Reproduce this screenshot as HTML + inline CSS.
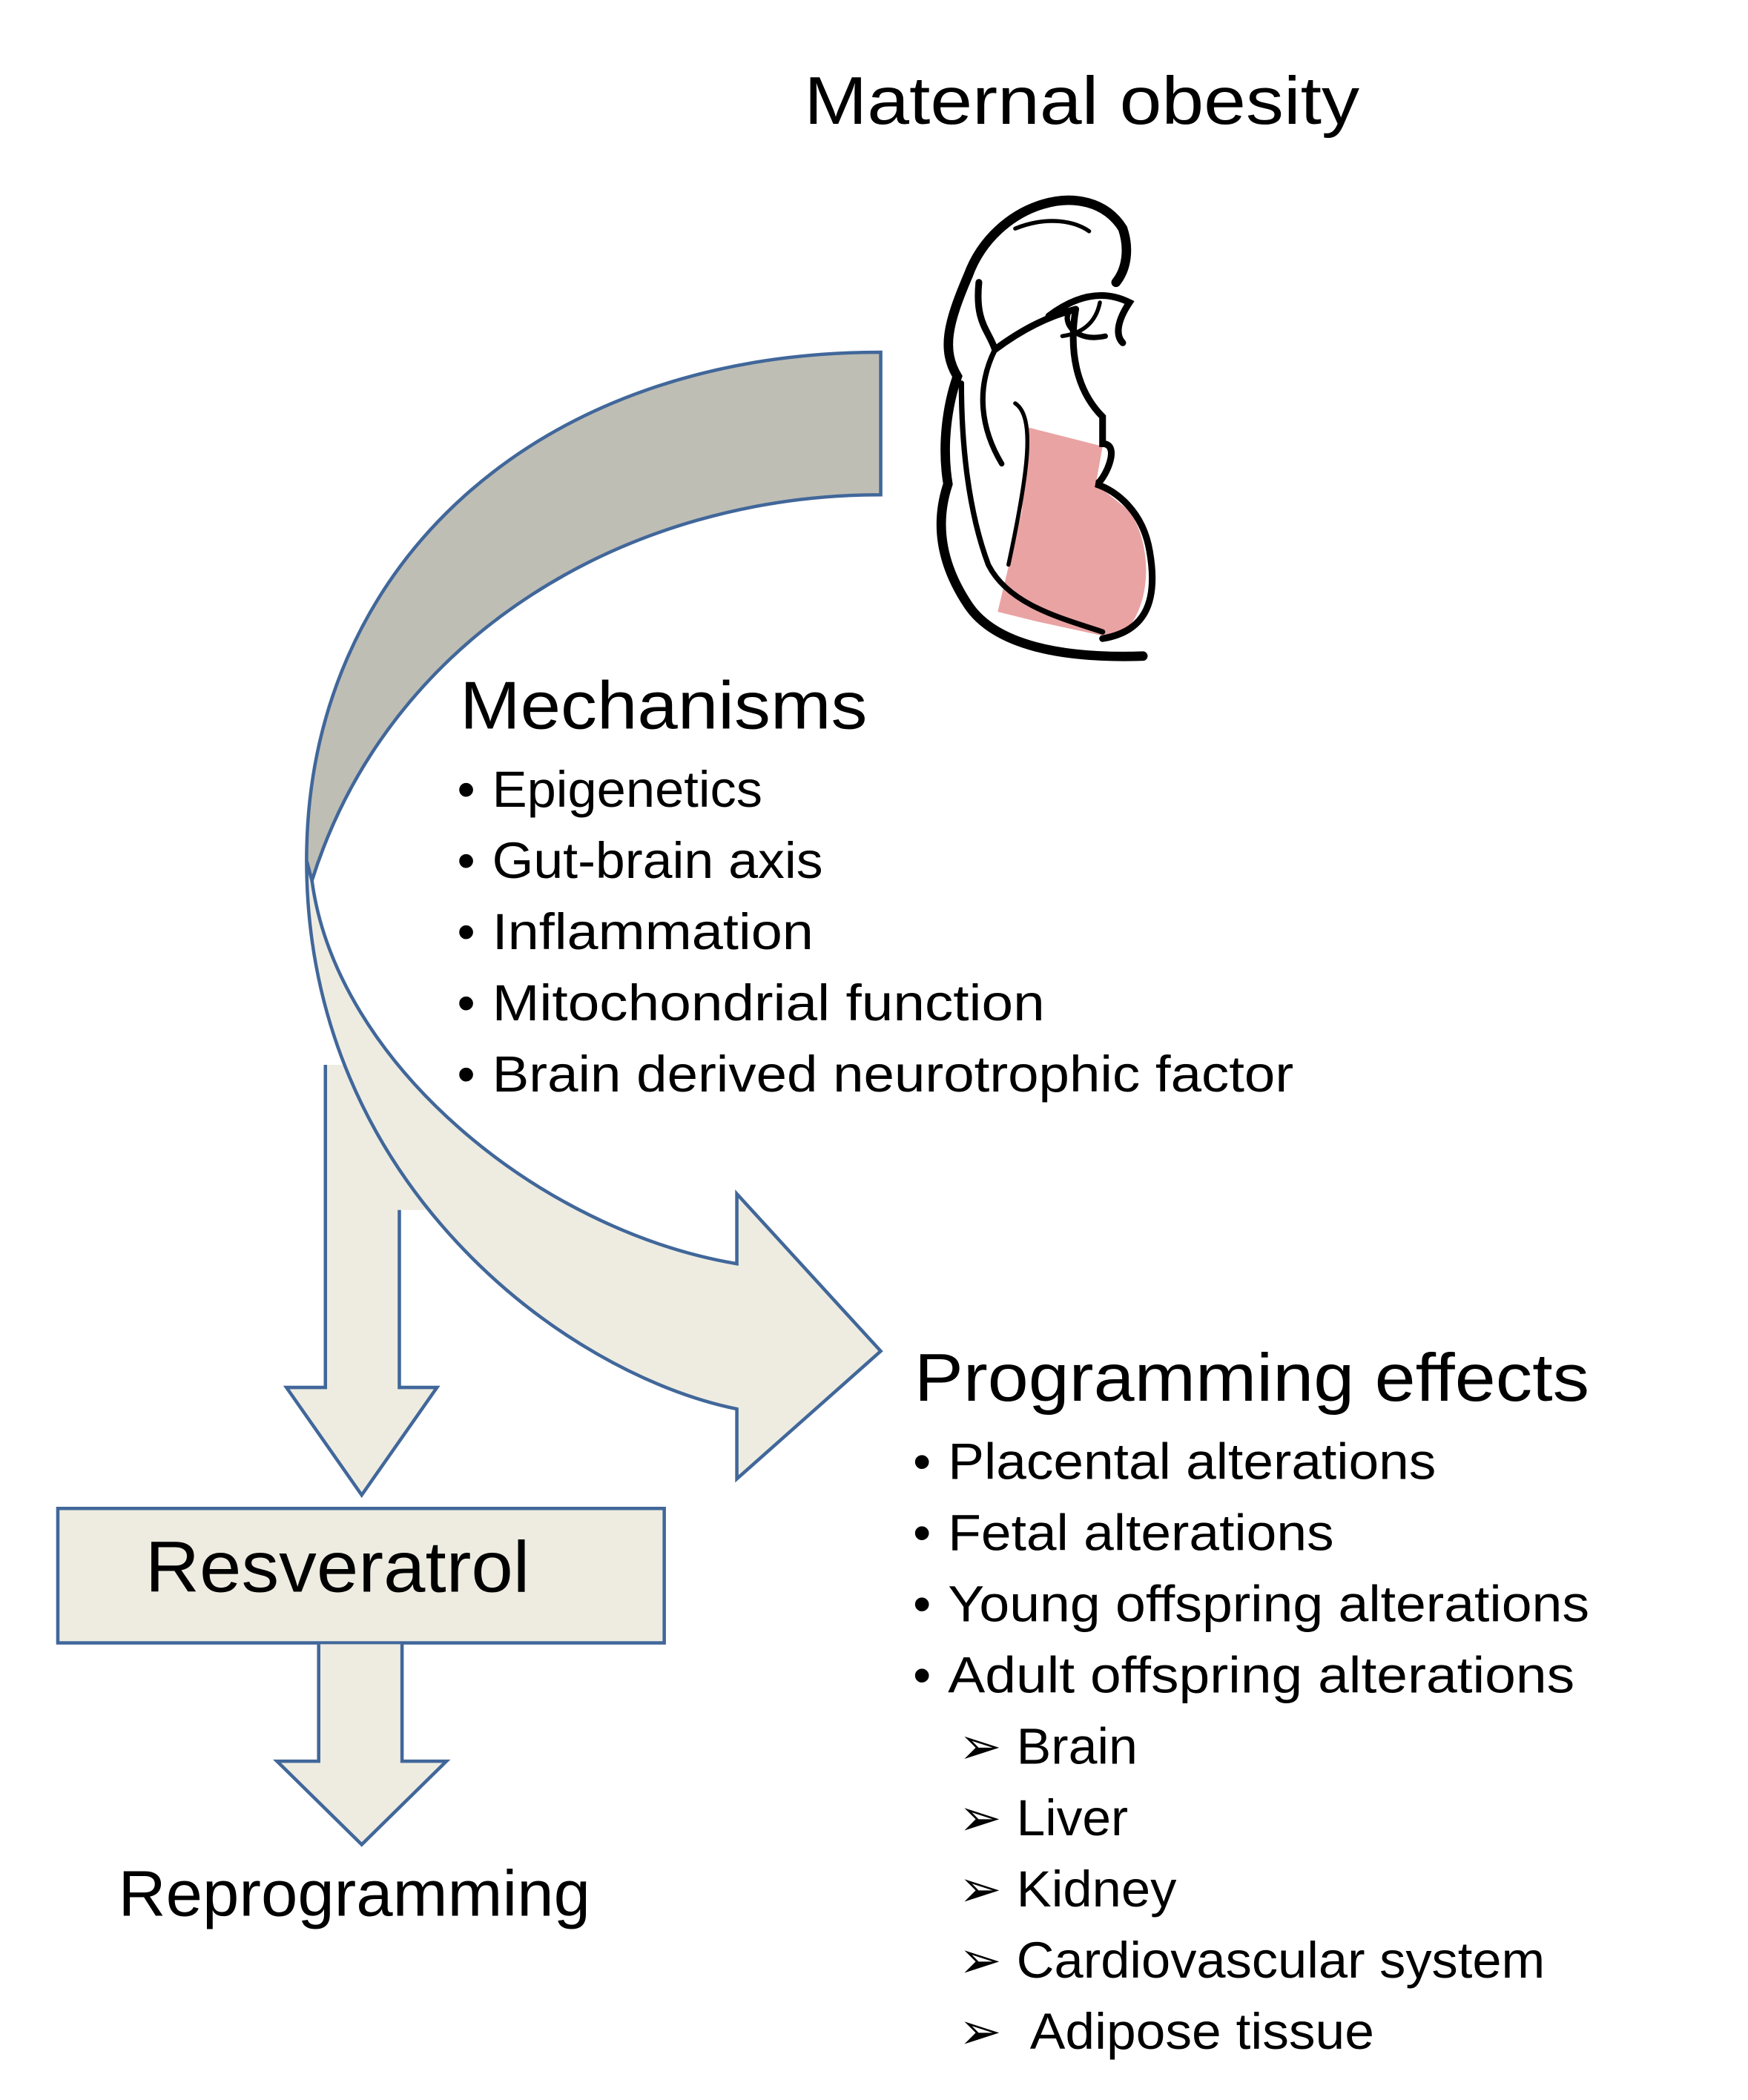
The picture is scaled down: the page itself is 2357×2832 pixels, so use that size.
<!DOCTYPE html>
<html><head><meta charset="utf-8"><style>
html,body{margin:0;padding:0;background:#fff;}
svg{display:block;}
text{font-family:"Liberation Sans",sans-serif;fill:#000;}
</style></head><body>
<svg width="2357" height="2832" viewBox="0 0 1300 1562" xmlns="http://www.w3.org/2000/svg">
<rect width="1300" height="1562" fill="#fff"/>
<g stroke="#41679a" stroke-width="2.5" stroke-linejoin="miter">
<!-- down arrow 1 -->
<path d="M242,792 L242,1032 L213,1032 L269,1112 L325,1032 L297,1032 L297,900 L330,900 L265,792 Z" fill="#eeece1" stroke="none"/>
<path d="M242,792 L242,1032 L213,1032 L269,1112 L325,1032 L297,1032 L297,900" fill="none"/>
<!-- curved lower band with head -->
<path d="M228,640 C228,880 420,1022 548,1048 L548,1100 L655,1005 L548,888 L548,940 C400,915 250,790 232,655 Z" fill="#eeece1"/>
<!-- upper gray band -->
<path d="M655,262 C400,262 228,420 228,640 L232,655 C290,470 470,368 655,368 Z" fill="#bfbeb5"/>
<!-- resveratrol box -->
<rect x="43" y="1122" width="451" height="100" fill="#eeece1"/>
<path d="M237,1223 L237,1310 L206,1310 L269,1372 L332,1310 L299,1310 L299,1223" fill="#eeece1"/>
</g>
<!-- woman -->
<g fill="none" stroke="#000" stroke-linecap="round">
<path d="M765,318 L820,332 L815,360 L840,380 C860,410 855,460 830,475 L770,462 L742,455 L760,380 Z" fill="#eaa3a3" stroke="none"/>
<path d="M720,205 C740,150 810,130 835,170 C840,185 838,200 830,210" stroke-width="7"/>
<path d="M755,170 C780,160 800,165 810,172" stroke-width="3"/>
<path d="M780,235 C800,220 820,215 840,225 C830,240 830,250 835,255" stroke-width="5"/>
<path d="M720,205 C705,240 700,260 712,280 C705,300 700,330 705,360 C695,390 700,420 720,450 C740,480 790,490 850,488" stroke-width="7"/>
<path d="M728,210 C725,240 735,245 740,260 C760,245 780,235 800,230" stroke-width="5"/>
<path d="M795,232 C790,240 800,255 822,250" stroke-width="4"/>
<path d="M800,230 C795,260 800,290 820,310 L820,330 C835,330 820,360 815,360 C830,365 850,380 855,410 C862,450 850,470 820,475" stroke-width="5"/>
<path d="M740,260 C725,290 730,320 745,345" stroke-width="4"/>
<path d="M715,285 C715,330 720,380 735,420 C750,450 790,460 820,470" stroke-width="4"/>
<path d="M755,300 C770,310 765,350 750,420" stroke-width="3"/>
<path d="M790,250 C805,248 815,240 818,225" stroke-width="3"/>
</g>
<!-- texts -->
<text x="598" y="92" font-size="50" textLength="413" lengthAdjust="spacingAndGlyphs">Maternal obesity</text>
<text x="342" y="542" font-size="50" textLength="303" lengthAdjust="spacingAndGlyphs">Mechanisms</text>
<g font-size="38">
<text x="340" y="600">•</text><text x="366" y="600" textLength="201" lengthAdjust="spacingAndGlyphs">Epigenetics</text>
<text x="340" y="653">•</text><text x="366" y="653" textLength="246" lengthAdjust="spacingAndGlyphs">Gut-brain axis</text>
<text x="340" y="706">•</text><text x="366" y="706" textLength="239" lengthAdjust="spacingAndGlyphs">Inflammation</text>
<text x="340" y="759">•</text><text x="366" y="759" textLength="411" lengthAdjust="spacingAndGlyphs">Mitochondrial function</text>
<text x="340" y="812">•</text><text x="366" y="812" textLength="596" lengthAdjust="spacingAndGlyphs">Brain derived neurotrophic factor</text>
</g>
<text x="680" y="1042" font-size="50" textLength="502" lengthAdjust="spacingAndGlyphs">Programming effects</text>
<g font-size="38">
<text x="679" y="1100">•</text><text x="705" y="1100" textLength="363" lengthAdjust="spacingAndGlyphs">Placental alterations</text>
<text x="679" y="1153">•</text><text x="705" y="1153" textLength="287" lengthAdjust="spacingAndGlyphs">Fetal alterations</text>
<text x="679" y="1206">•</text><text x="705" y="1206" textLength="477" lengthAdjust="spacingAndGlyphs">Young offspring alterations</text>
<text x="679" y="1259">•</text><text x="705" y="1259" textLength="466" lengthAdjust="spacingAndGlyphs">Adult offspring alterations</text>
<text x="713" y="1312" font-family="DejaVu Sans">➢</text><text x="756" y="1312" textLength="90" lengthAdjust="spacingAndGlyphs">Brain</text>
<text x="713" y="1365" font-family="DejaVu Sans">➢</text><text x="756" y="1365" textLength="83" lengthAdjust="spacingAndGlyphs">Liver</text>
<text x="713" y="1418" font-family="DejaVu Sans">➢</text><text x="756" y="1418" textLength="119" lengthAdjust="spacingAndGlyphs">Kidney</text>
<text x="713" y="1471" font-family="DejaVu Sans">➢</text><text x="756" y="1471" textLength="393" lengthAdjust="spacingAndGlyphs">Cardiovascular system</text>
<text x="713" y="1524" font-family="DejaVu Sans">➢</text><text x="766" y="1524" textLength="256" lengthAdjust="spacingAndGlyphs">Adipose tissue</text>
</g>
<text x="108" y="1184" font-size="54" textLength="286" lengthAdjust="spacingAndGlyphs">Resveratrol</text>
<text x="88" y="1425" font-size="48" textLength="351" lengthAdjust="spacingAndGlyphs">Reprogramming</text>
</svg>
</body></html>
